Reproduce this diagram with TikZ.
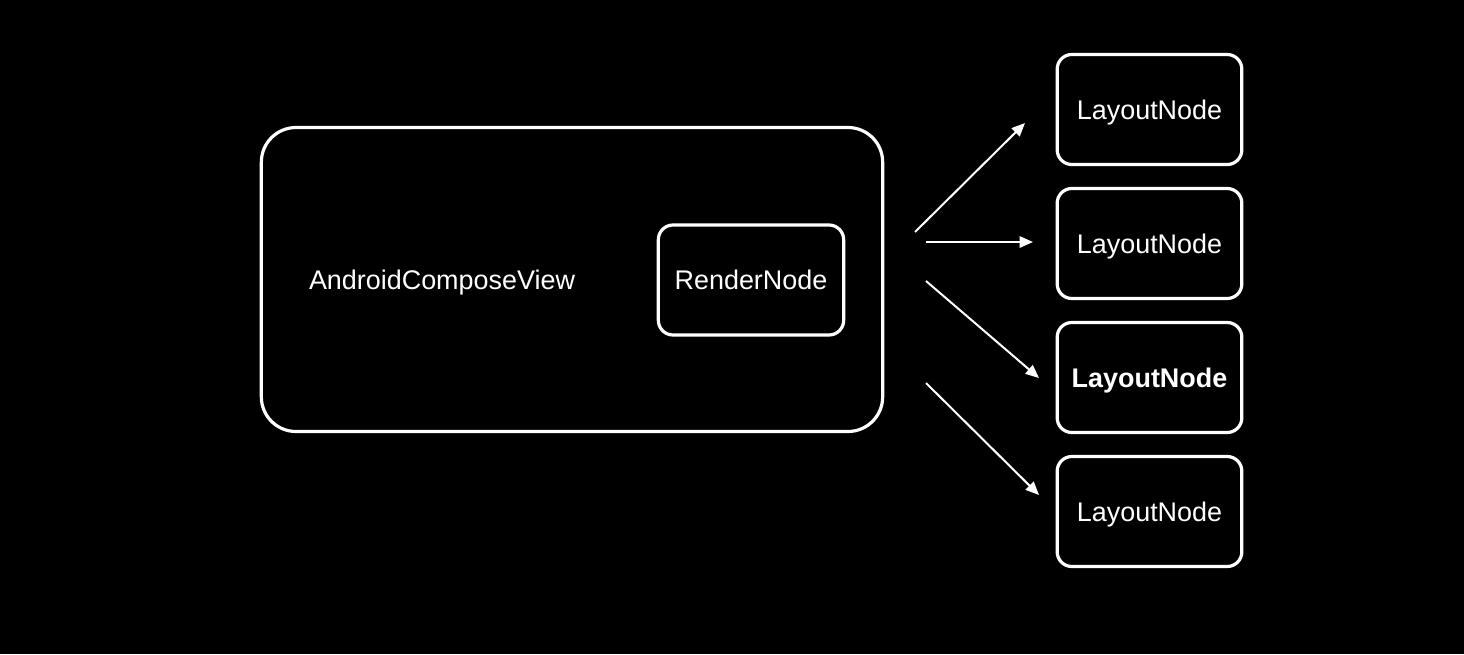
\documentclass[tikz,border=0pt]{standalone}
\usepackage{fontspec}
\setmainfont{Liberation Sans}
\usetikzlibrary{arrows.meta}
\begin{document}
\begin{tikzpicture}[x=0.75pt,y=-0.75pt,
  box/.style={draw=white, line width=2.4pt, rounded corners=11pt, fill=black, inner sep=0pt},
  lbl/.style={text=white, font=\fontsize{20.2pt}{24pt}\selectfont, inner sep=0pt, text height=14.4pt, text depth=0pt},
  lnode/.style={box, minimum width=138.5pt, minimum height=82.5pt, lbl},
  arr/.style={draw=white, line width=1.5pt, -{Triangle[width=8.5pt,length=10pt]}}
]
\fill[black] (0,0) rectangle (1464,654);
\useasboundingbox (0,0) rectangle (1464,654);
\node[box, rounded corners=26pt, minimum width=466pt, minimum height=228pt] (acv) at (572,279.5) {};
\node[lbl] (acvt) at (442,279.5) {AndroidComposeView};
\node[box, minimum width=139pt, minimum height=82.5pt, lbl] (rn) at (751,280) {RenderNode};
\node[lnode] (l1) at (1149.5,109.5) {LayoutNode};
\node[lnode] (l2) at (1149.5,243.5) {LayoutNode};
\node[lnode, font=\fontsize{20.2pt}{24pt}\selectfont\bfseries] (l3) at (1149.5,377.5) {LayoutNode};
\node[lnode] (l4) at (1149.5,511.5) {LayoutNode};
\coordinate (s1) at (915,232); \coordinate (e1) at (1025,123);
\coordinate (s2) at (926,242); \coordinate (e2) at (1033,242);
\coordinate (s3) at (926,281); \coordinate (e3) at (1039,378);
\coordinate (s4) at (926,383); \coordinate (e4) at (1039,495);
\draw[arr] (s1) -- (e1);
\draw[arr] (s2) -- (e2);
\draw[arr] (s3) -- (e3);
\draw[arr] (s4) -- (e4);
\end{tikzpicture}
\end{document}
